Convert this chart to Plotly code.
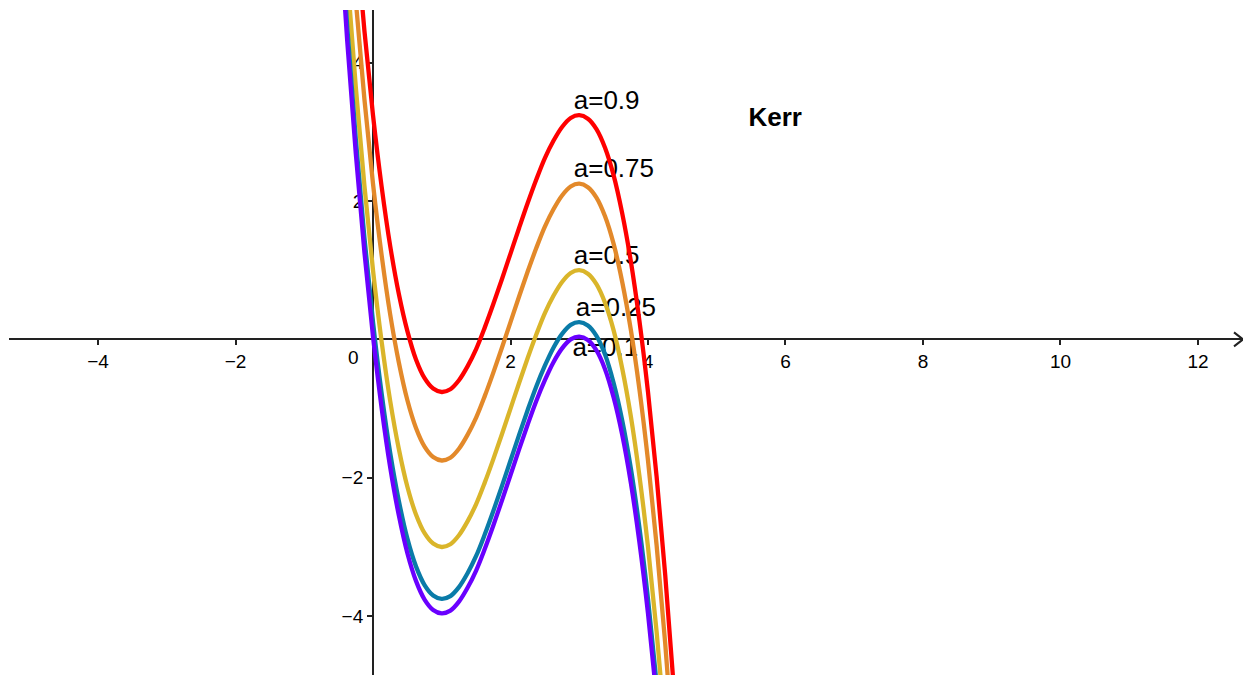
import plotly.graph_objects as go

# ---- data ----
x_samples = [-0.5, -0.375, -0.25, -0.125, 0.0, 0.125, 0.25, 0.375, 0.5, 0.625,
             0.75, 0.875, 1.0, 1.125, 1.25, 1.375, 1.5, 1.625, 1.75, 1.875,
             2.0, 2.125, 2.25, 2.375, 2.5, 2.625, 2.75, 2.875, 3.0, 3.125,
             3.25, 3.375, 3.5, 3.625, 3.75, 3.875, 4.0, 4.125, 4.25, 4.375, 4.5]

y_a090 = [9.37, 7.51, 5.88, 4.46, 3.24, 2.21, 1.35, 0.66, 0.12, -0.29,
          -0.56, -0.71, -0.76, -0.72, -0.59, -0.39, -0.14, 0.17, 0.51, 0.87,
          1.24, 1.61, 1.97, 2.31, 2.62, 2.87, 3.07, 3.20, 3.24, 3.19,
          3.04, 2.77, 2.37, 1.82, 1.13, 0.27, -0.76, -1.98, -3.40, -5.03, -6.89]
y_a075 = [8.38, 6.52, 4.89, 3.47, 2.25, 1.22, 0.36, -0.33, -0.88, -1.28,
          -1.55, -1.70, -1.75, -1.71, -1.58, -1.38, -1.13, -0.82, -0.48, -0.12,
          0.25, 0.62, 0.98, 1.32, 1.63, 1.88, 2.08, 2.21, 2.25, 2.20,
          2.05, 1.78, 1.38, 0.83, 0.14, -0.72, -1.75, -2.97, -4.39, -6.02, -7.88]
y_a050 = [7.13, 5.27, 3.64, 2.22, 1.00, -0.03, -0.89, -1.58, -2.13, -2.53,
          -2.80, -2.95, -3.00, -2.96, -2.83, -2.63, -2.38, -2.07, -1.73, -1.37,
          -1.00, -0.63, -0.27, 0.07, 0.38, 0.63, 0.83, 0.96, 1.00, 0.95,
          0.80, 0.53, 0.13, -0.42, -1.11, -1.97, -3.00, -4.22, -5.64, -7.27, -9.13]
y_a025 = [6.38, 4.52, 2.89, 1.47, 0.25, -0.78, -1.64, -2.33, -2.88, -3.28,
          -3.55, -3.70, -3.75, -3.71, -3.58, -3.38, -3.13, -2.82, -2.48, -2.12,
          -1.75, -1.38, -1.02, -0.68, -0.38, -0.12, 0.08, 0.21, 0.25, 0.20,
          0.05, -0.22, -0.63, -1.17, -1.86, -2.72, -3.75, -4.97, -6.39, -8.02, -9.88]
y_a010 = [6.17, 4.31, 2.68, 1.26, 0.04, -0.99, -1.85, -2.54, -3.09, -3.49,
          -3.76, -3.91, -3.96, -3.92, -3.79, -3.59, -3.34, -3.03, -2.69, -2.33,
          -1.96, -1.59, -1.23, -0.89, -0.59, -0.33, -0.13, 0.00, 0.04, -0.01,
          -0.16, -0.43, -0.84, -1.38, -2.07, -2.93, -3.96, -5.18, -6.60, -8.23, -10.09]

series_names = ["a=0.9", "a=0.75", "a=0.5", "a=0.25", "a=0.1"]
series_values = [y_a090, y_a075, y_a050, y_a025, y_a010]
series_colors = ["#FF0000", "#E3892A", "#DAB52A", "#0A7BA8", "#6A00FF"]

label_x = [2.92, 2.92, 2.92, 2.95, 2.90]
label_y = [3.42, 2.44, 1.18, 0.43, -0.15]

title_text = "Kerr"
title_pos = (5.85, 3.18)

x_ticks = [-4, -2, 2, 4, 6, 8, 10, 12]
y_ticks = [-4, -2, 2, 4]

x_range = [-5.295, 12.655]
y_range = [-4.85, 4.76]

FONT = "Liberation Sans, Arial, sans-serif"
AXIS_COLOR = "#222222"

fig = go.Figure()

# labels first so curves draw over them
for name, lx, ly in zip(series_names, label_x, label_y):
    fig.add_trace(go.Scatter(
        x=[lx], y=[ly], mode="text", text=[name], textposition="middle right",
        textfont=dict(family=FONT, size=26, color="black"),
        showlegend=False, hoverinfo="skip"))

fig.add_trace(go.Scatter(
    x=[title_pos[0]], y=[title_pos[1]], mode="text", text=["<b>" + title_text + "</b>"],
    textposition="middle center",
    textfont=dict(family=FONT, size=26, color="black"),
    showlegend=False, hoverinfo="skip"))

for name, ys, col in zip(series_names, series_values, series_colors):
    fig.add_trace(go.Scatter(
        x=x_samples, y=ys, mode="lines", name=name,
        line=dict(color=col, width=4.3, shape="spline", smoothing=1.0),
        showlegend=False))

xpos = (0 - y_range[0]) / (y_range[1] - y_range[0])
ypos = (0 - x_range[0]) / (x_range[1] - x_range[0])

fig.update_layout(
    width=1255, height=675,
    margin=dict(l=9, r=12, t=10, b=0),
    paper_bgcolor="white", plot_bgcolor="white",
    font=dict(family=FONT, size=19, color="black"),
    showlegend=False,
    xaxis=dict(range=x_range, anchor="free", position=xpos,
               showline=True, linecolor=AXIS_COLOR, linewidth=2,
               ticks="outside", ticklen=5, tickwidth=1.5, tickcolor=AXIS_COLOR,
               tickvals=x_ticks, showgrid=False, zeroline=False,
               tickfont=dict(family=FONT, size=19, color="black"),
               layer="below traces"),
    yaxis=dict(range=y_range, anchor="free", position=ypos,
               showline=True, linecolor=AXIS_COLOR, linewidth=2,
               ticks="outside", ticklen=5, tickwidth=1.5, tickcolor=AXIS_COLOR,
               tickvals=y_ticks, showgrid=False, zeroline=False,
               tickfont=dict(family=FONT, size=19, color="black"),
               layer="below traces"),
    shapes=[dict(type="path", xref="x", yref="y", xsizemode="pixel", ysizemode="pixel",
                 xanchor=x_range[1], yanchor=0,
                 path="M -9 7 L 0 0 L -9 -7",
                 line=dict(color=AXIS_COLOR, width=2))],
    annotations=[dict(x=0, y=0, xref="x", yref="y", text="0", showarrow=False,
                      xanchor="right", yanchor="top", xshift=-12, yshift=-6,
                      font=dict(family=FONT, size=19, color="black"))],
)

fig.write_html(
    "out.html",
    config={"displayModeBar": False},
    post_script="document.body.style.margin='0';document.body.style.overflow='hidden';",
)
